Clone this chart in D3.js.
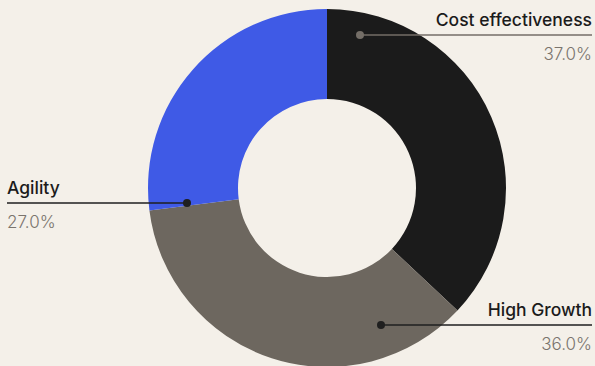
<!DOCTYPE html>
<html>
<head>
<meta charset="utf-8">
<script src="https://cdn.jsdelivr.net/npm/d3@7"></script>
<style>
  html, body { margin: 0; padding: 0; background: #f4f0e9; }
  svg { display: block; }
  text { font-family: Inter, "Noto Sans", sans-serif; }
</style>
</head>
<body>
<svg id="chart" width="595" height="366"></svg>
<script>
// Share of each driver
const categories = ["Cost effectiveness", "High Growth", "Agility"];
const shares = [37.0, 36.0, 27.0];
const sliceColors = ["#1b1b1b", "#6d675f", "#3f5ae6"];

const width = 595, height = 366;
const cx = 327, cy = 188;
const outerR = 179, innerR = 89;

const svg = d3.select("#chart");
svg.append("rect").attr("width", width).attr("height", height).attr("fill", "#f4f0e9");

const data = categories.map((c, i) => ({ name: c, value: shares[i], color: sliceColors[i] }));

const pie = d3.pie().value(d => d.value).sort(null).startAngle(0).endAngle(2 * Math.PI);
const arc = d3.arc().innerRadius(innerR).outerRadius(outerR);

const g = svg.append("g").attr("transform", `translate(${cx},${cy})`);
g.selectAll("path")
  .data(pie(data))
  .join("path")
  .attr("d", arc)
  .attr("fill", d => d.data.color);

// Callout placement for each slice: side of the chart, line height, dot position
const callouts = {
  "Cost effectiveness": { side: "right", lineY: 35, dotX: 360, ink: "#746e67" },
  "High Growth":        { side: "right", lineY: 325, dotX: 381, ink: "#1f1f1f" },
  "Agility":            { side: "left",  lineY: 203, dotX: 187, ink: "#1f1f1f" }
};

const fmt = d3.format(".1f");
data.forEach(d => {
  const c = callouts[d.name];
  const edgeX = c.side === "right" ? 592 : 7;
  const anchor = c.side === "right" ? "end" : "start";
  svg.append("line")
    .attr("x1", c.dotX).attr("x2", edgeX)
    .attr("y1", c.lineY).attr("y2", c.lineY)
    .attr("stroke", c.ink).attr("stroke-width", 1.5);
  svg.append("circle")
    .attr("cx", c.dotX).attr("cy", c.lineY).attr("r", 4)
    .attr("fill", c.ink);
  svg.append("text")
    .attr("x", edgeX).attr("y", c.lineY - 9)
    .attr("text-anchor", anchor)
    .attr("font-size", 17.5).attr("font-weight", 500)
    .attr("fill", "#1b1b1b")
    .text(d.name);
  svg.append("text")
    .attr("x", edgeX).attr("y", c.lineY + 25)
    .attr("text-anchor", anchor)
    .attr("font-size", 17).attr("font-weight", 300)
    .attr("fill", "#7a746d")
    .text(fmt(d.value) + "%");
});
</script>
</body>
</html>
